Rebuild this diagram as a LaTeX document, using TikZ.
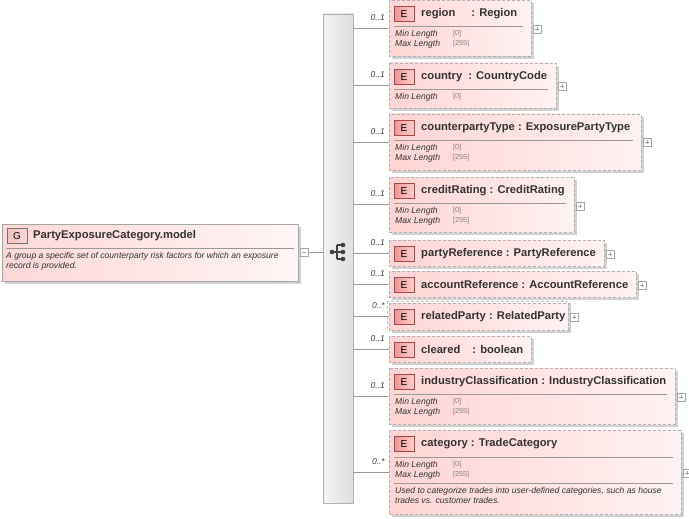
\documentclass[tikz,border=0pt]{standalone}
\usepackage{fontspec}
\setmainfont{Liberation Sans}
\begin{document}
\begin{tikzpicture}[x=1pt,y=-1pt,
  title/.style={font=\bfseries\fontsize{11.2}{13}\selectfont, text=black!80, inner sep=0, anchor=west},
  facet/.style={font=\itshape\fontsize{8.6}{10}\selectfont, text=black!80, inner sep=0, anchor=west},
  fval/.style={font=\fontsize{7.2}{8}\selectfont, text=gray, inner sep=0, anchor=west},
  mult/.style={font=\itshape\fontsize{8.5}{10}\selectfont, text=black!75, inner sep=0, anchor=east},
  badge/.style={draw={rgb,255:red,170;green,70;blue,70}, left color={rgb,255:red,240;green,150;blue,150}, right color={rgb,255:red,252;green,205;blue,205}, minimum width=20, minimum height=15, inner sep=0, font=\fontsize{10}{11}\selectfont, line width=0.7},
  conn/.style={draw=gray!80, line width=0.6},
  pbox/.style={draw=gray!70, fill=white, minimum size=8, inner sep=0, line width=0.4}]
\useasboundingbox (0,0) rectangle (689,519);
\newcommand\ebox[6]{% name, x2, top, bottom, title, conn y
  \fill[gray!35] (392,{#3+3}) rectangle ({#2+3},{#4+3});
  \shade[left color={rgb,255:red,255;green,212;blue,212}, right color={rgb,255:red,255;green,242;blue,242}] (389,#3) rectangle (#2,#4);
  \draw[gray!60, dash pattern=on 3pt off 2pt, line width=0.7] (389,#3) rectangle (#2,#4);
  \node[badge] (#1-b) at (404,{#3+14}) {E};
  \node[title] (#1-t) at (421,{#3+13.5}) {#5};
  \coordinate (#1) at (389,#6);
}
\newcommand\fsep[3]{\draw[gray!80, line width=0.6] (394,#3) -- ({#2-8},#3);}
\newcommand\facets[2]{%
  \node[facet] at (395,{#1+34}) {Min Length};
  \node[fval] at (453,{#1+34}) {[0]};
  \ifx#2y
  \node[facet] at (395,{#1+44}) {Max Length};
  \node[fval] at (453,{#1+44}) {[255]};
  \fi
}
% group box
\fill[gray!35] (5,227) rectangle (301,284);
\shade[left color={rgb,255:red,255;green,215;blue,215}, right color={rgb,255:red,255;green,245;blue,245}] (2,224) rectangle (298,281);
\draw[gray!70, line width=0.6] (2,224) rectangle (298,281);
\node[badge, draw=gray!90!black, left color={rgb,255:red,245;green,190;blue,190}, right color={rgb,255:red,250;green,215;blue,215}] (gb) at (17,236) {G};
\node[title] (gt) at (33,235.5) {PartyExposureCategory.model};
\draw[gray!80, line width=0.6] (6,248) -- (294,248);
\node[facet, align=left, anchor=north west] (gd) at (6,252) {A group a specific set of counterparty risk factors for which an exposure\\record is provided.};
\node[pbox] (gm) at (304,252) {};
\draw[gray!70] (302,252) -- (306,252);
% sequence bar
\shade[left color=gray!10, right color=gray!25] (323,14) rectangle (353,503);
\draw[gray!60, line width=0.6] (323,14) rectangle (353,503);
\node[minimum width=30, minimum height=489, inner sep=0] (seq) at (338,258.5) {};
\draw[conn] (gm.east) -- (323,252);
% sequence icon
\draw[black!75, line width=1.1] (332,252) -- (337,252) (337,245) -- (337,259) (337,245) -- (343,245) (337,252) -- (343,252) (337,259) -- (343,259);
\fill[black!75] (332,252) circle [radius=2.3pt] (343,245) circle [radius=2.3pt] (343,252) circle [radius=2.3pt] (343,259) circle [radius=2.3pt];
% elements
\ebox{region}{531}{0}{56}{region\hspace{16pt}: Region}{28}
\fsep{389}{531}{26}\facets{0}{y}
\ebox{country}{556}{63}{108}{country\hspace{6pt}: CountryCode}{85}
\fsep{389}{556}{89}\facets{63}{n}
\ebox{cpt}{641}{114}{170}{counterpartyType : ExposurePartyType}{142}
\fsep{389}{641}{140}\facets{114}{y}
\ebox{cr}{574}{177}{232}{creditRating : CreditRating}{204}
\fsep{389}{574}{203}\facets{177}{y}
\ebox{pr}{604}{240}{266}{partyReference : PartyReference}{253}
\ebox{ar}{636}{271}{297}{accountReference : AccountReference}{284}
% stacked relatedParty
\fill[gray!35] (392,303) rectangle (571,333);
\draw[gray!50, dash pattern=on 3pt off 2pt] (387,301) rectangle (566,328);
\ebox{rp}{568}{303}{330}{relatedParty : RelatedParty}{316}
\ebox{cl}{531}{336}{362}{cleared\hspace{12pt}: boolean}{349}
\ebox{ic}{675}{368}{424}{industryClassification : IndustryClassification}{396}
\fsep{389}{675}{394}\facets{368}{y}
\ebox{cat}{681}{430}{514}{category : TradeCategory}{472}
\fsep{389}{681}{457}
\node[facet] at (395,465) {Min Length};\node[fval] at (453,465) {[0]};
\node[facet] at (395,475) {Max Length};\node[fval] at (453,475) {[255]};
\draw[gray!80, line width=0.6] (394,483) -- (673,483);
\node[facet, anchor=north west, align=left] (catd) at (395,487) {Used to categorize trades into user-defined categories, such as house\\trades vs. customer trades.};
% connectors, multiplicities
\foreach \n/\y/\m in {region/28/0..1, country/85/0..1, cpt/142/0..1, cr/204/0..1, pr/253/0..1, ar/284/0..1, rp/316/0..*, cl/349/0..1, ic/396/0..1, cat/472/0..*}{
  \draw[conn] (seq.east |- \n) -- (\n);
  \node[mult] at (385,{\y-10}) {\m};
}
\foreach \n/\y/\xe in {region/29/531, country/86/556, cpt/142/641, cr/206/574, pr/254/604, ar/285/636, rp/317/568, ic/397/675, cat/473/681}{
  \node[pbox] (\n-p) at ({\xe+6},\y) {};
  \draw[gray!70, line width=0.4] ({\xe+4},\y) -- ({\xe+8},\y) ({\xe+6},{\y-2}) -- ({\xe+6},{\y+2});
}
\end{tikzpicture}
\end{document}
